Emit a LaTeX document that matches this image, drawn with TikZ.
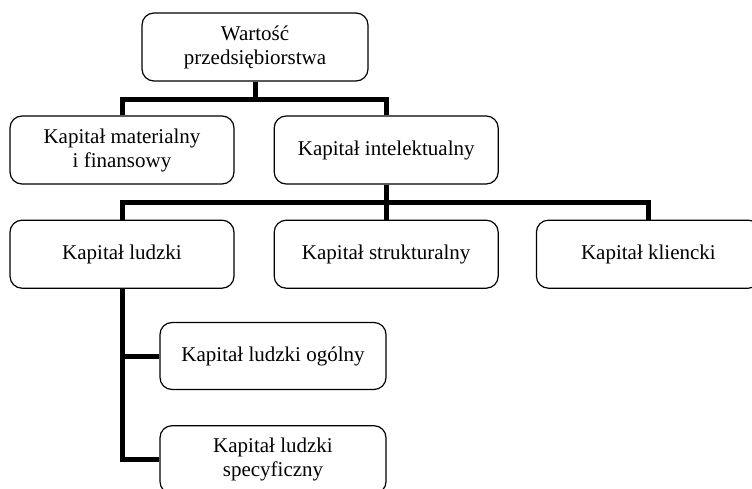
\documentclass[tikz,border=0pt]{standalone}
\usepackage{fontspec}
\setmainfont{Liberation Serif}
\usetikzlibrary{positioning}

\begin{document}
\begin{tikzpicture}[
    x=1pt, y=-1pt,
    node distance=35pt and 39pt,
    box/.style={rectangle, draw=black, fill=white, line width=1.2pt, rounded corners=12pt, minimum width=224pt, minimum height=68pt, align=center, font=\fontsize{21}{24}\selectfont},
    conn/.style={line width=5pt, line join=miter, draw=black}
]
    \useasboundingbox (0,0) rectangle (752,489);

    \node[box, minimum width=226pt] (wartosc) at (255,47) {Wartość\\ przedsiębiorstwa};
    \node[box] (material) at (122,150) {Kapitał materialny\\ i finansowy};
    \node[box, right=of material] (intel) {Kapitał intelektualny};

    \node[box, below=of material] (ludzki) {Kapitał ludzki};
    \node[box, below=of intel] (strukt) {Kapitał strukturalny};
    \node[box, right=37pt of strukt] (klient) {Kapitał kliencki};

    \node[box, minimum width=226pt, minimum height=67pt] (ogolny) at (273,356) {Kapitał ludzki ogólny};
    \node[box, minimum width=226pt, below=35pt of ogolny] (specyf) {Kapitał ludzki\\ specyficzny};

    \draw[conn] (wartosc.south) -- ++(0,18) -| (material.north);
    \draw[conn] (wartosc.south) -- ++(0,18) -| (intel.north);

    \draw[conn] (intel.south) -- ++(0,18) -| (ludzki.north);
    \draw[conn] (intel.south) -- (strukt.north);
    \draw[conn] (intel.south) -- ++(0,18) -| (klient.north);

    \draw[conn] (ludzki.south) |- (ogolny.west);
    \draw[conn] (ludzki.south) |- (specyf.west);
\end{tikzpicture}
\end{document}
